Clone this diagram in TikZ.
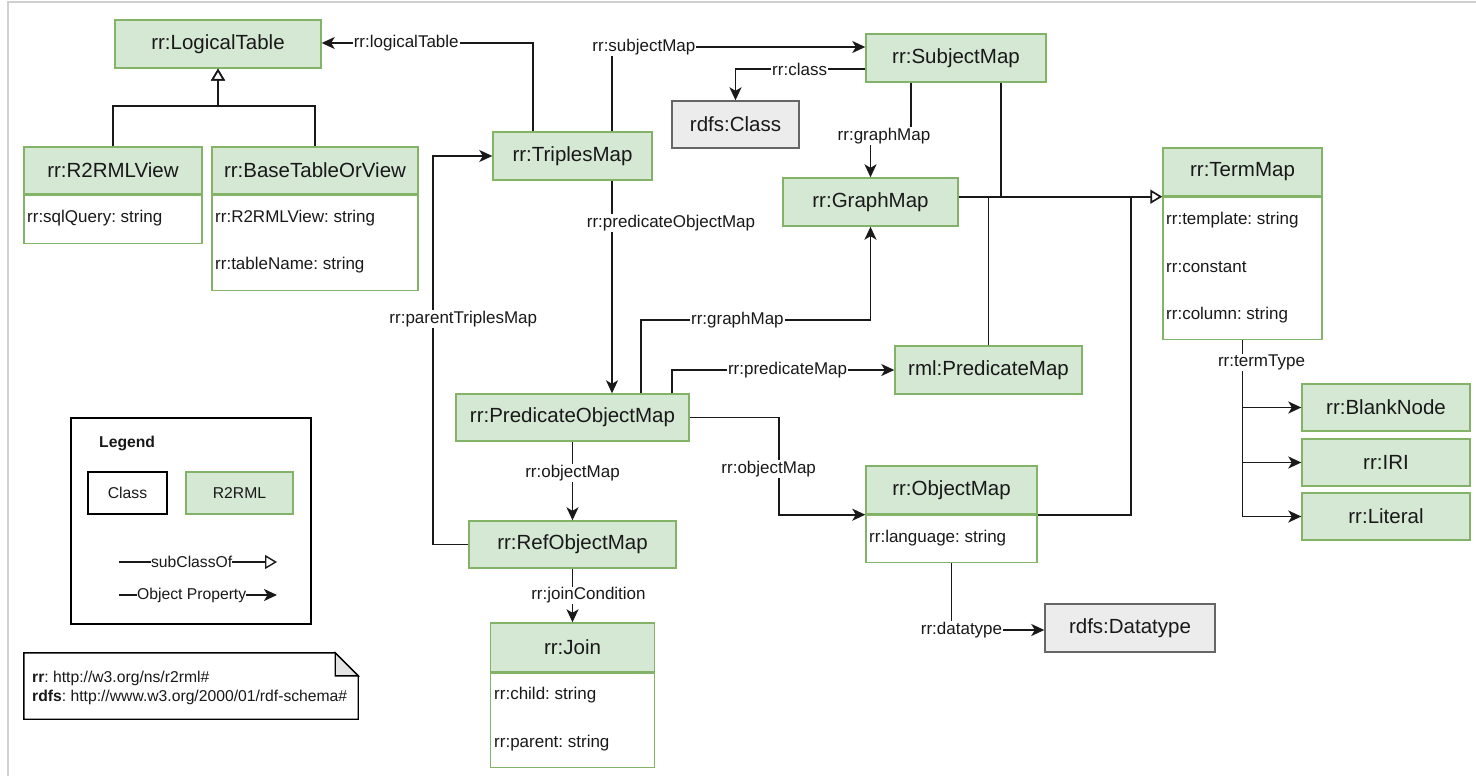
\documentclass[tikz,border=0pt]{standalone}
\usepackage{fontspec}
\setmainfont{Liberation Sans}
\usetikzlibrary{arrows.meta}
\definecolor{gfill}{HTML}{D5E8D4}
\definecolor{gline}{HTML}{82B366}
\definecolor{cfill}{HTML}{ECECEC}
\definecolor{cline}{HTML}{666666}
\definecolor{framegray}{HTML}{D0D0D0}
\definecolor{foldgray}{HTML}{E4E4E4}
\frenchspacing

\begin{document}
\begin{tikzpicture}[x=1pt,y=-1pt,
  hdr/.style={draw=gline, fill=gfill, line width=1.4pt, inner sep=0pt,
    font=\fontsize{20.5}{24}\selectfont, text=black!90},
  bodybox/.style={draw=gline, fill=white, line width=1.4pt, inner sep=0pt},
  extcls/.style={draw=cline, fill=cfill, line width=1.4pt, inner sep=0pt,
    font=\fontsize{20.5}{24}\selectfont, text=black!90},
  attr/.style={anchor=west, inner sep=0pt, font=\fontsize{17}{20}\selectfont, text=black!90},
  lbl/.style={fill=white, inner sep=1pt, font=\fontsize{17}{20}\selectfont, text=black!90},
  small/.style={font=\fontsize{15.7}{19}\selectfont, text=black!90},
  prop/.style={line width=1.7pt, black!90, -{Stealth[length=13pt, width=12pt, inset=3.5pt]}},
  conn/.style={line width=1.7pt, black!90},
  sub/.style={line width=1.7pt, black!90, -{Triangle[length=12pt, width=14pt, fill=white]}},
]
\useasboundingbox (0,0) rectangle (1476,776);

% page frame
\draw[framegray, line width=1.2pt] (8,776) -- (8,2) -- (1476,2);

% ---------- logical tables ----------
\node[hdr, minimum width=206, minimum height=48] (lt) at (218,44) {rr:LogicalTable};
\node[hdr, minimum width=178, minimum height=47] (r2v) at (113,170.5) {rr:R2RMLView};
\node[bodybox, minimum width=178, minimum height=48, anchor=north] (r2vb) at (r2v.south) {};
\node[attr] (r2va) at (27,218) {rr:sqlQuery: string};
\node[hdr, minimum width=206, minimum height=47] (btv) at (315,170.5) {rr:BaseTableOrView};
\node[bodybox, minimum width=206, minimum height=95, anchor=north] (btvb) at (btv.south) {};
\node[attr] (btva) at (215,218) {rr:R2RMLView: string};
\node[attr] (btvc) at (215,265) {rr:tableName: string};

% ---------- maps ----------
\node[hdr, minimum width=159, minimum height=48] (tm) at (572.5,156) {rr:TriplesMap};
\node[hdr, minimum width=180, minimum height=48] (sm) at (956,58) {rr:SubjectMap};
\node[extcls, minimum width=127, minimum height=47] (cls) at (735.5,124.5) {rdfs:Class};
\node[hdr, minimum width=175, minimum height=48] (gm) at (870.5,202) {rr:GraphMap};

\node[hdr, minimum width=159, minimum height=48] (term) at (1242.5,172) {rr:TermMap};
\node[bodybox, minimum width=159, minimum height=142, anchor=north] (termb) at (term.south) {};
\node[attr] (terma) at (1166,220) {rr:template: string};
\node[attr] (termc) at (1166,267) {rr:constant};
\node[attr] (termd) at (1166,315) {rr:column: string};

\node[hdr, minimum width=187, minimum height=48] (pm) at (988.5,370) {rml:PredicateMap};
\node[hdr, minimum width=233, minimum height=47] (pom) at (572.5,417.5) {rr:PredicateObjectMap};
\node[hdr, minimum width=207, minimum height=47] (rom) at (572.5,544.5) {rr:RefObjectMap};

\node[hdr, minimum width=164, minimum height=49] (join) at (572.5,647.5) {rr:Join};
\node[bodybox, minimum width=164, minimum height=94, anchor=north] (joinb) at (join.south) {};
\node[attr] (joina) at (494,695) {rr:child: string};
\node[attr] (joinc) at (494,743) {rr:parent: string};

\node[hdr, minimum width=171, minimum height=48] (om) at (951.5,490) {rr:ObjectMap};
\node[bodybox, minimum width=171, minimum height=47, anchor=north] (omb) at (om.south) {};
\node[attr] (oma) at (869,538) {rr:language: string};
\node[extcls, minimum width=170, minimum height=48] (dt) at (1130,628) {rdfs:Datatype};

\node[hdr, minimum width=168, minimum height=47] (bn) at (1386,407.5) {rr:BlankNode};
\node[hdr, minimum width=168, minimum height=47] (iri) at (1386,462.5) {rr:IRI};
\node[hdr, minimum width=168, minimum height=47] (lit) at (1386,516.5) {rr:Literal};

% ---------- subclass links ----------
\draw[sub] (r2v.north) -- ++(0,-40) -| (lt.south);
\draw[sub] (btv.north) -- ++(0,-40) -| (lt.south);

\coordinate (tj) at ([xshift=-31]term.south west);
\draw[conn] ([xshift=45]sm.south) -- ([xshift=45]sm.south |- term.south west);
\draw[conn] (pm.north) -- (pm.north |- term.south west);
\draw[conn] (om.south east) -| (tj);
\draw[sub] (gm.east |- term.south west) -- (term.south west);

% ---------- object properties ----------
\draw[prop] ([xshift=-39.5]tm.north) |- node[lbl, pos=0.8]{rr:logicalTable} ([yshift=1]lt.east);
\draw[prop] ([xshift=39.5]tm.north) |- node[lbl, pos=0.563]{rr:subjectMap} ([yshift=11]sm.west);
\draw[prop] ([xshift=39.5]tm.south) -- node[lbl, pos=0.2, xshift=59]{rr:predicateObjectMap} ([xshift=39.5]pom.north);
\draw[prop] ([yshift=-11]sm.west) -| node[lbl, pos=0.253]{rr:class} (cls.north);
\draw[prop] ([xshift=-45]sm.south) -- ++(0,53) node[lbl, xshift=-27]{rr:graphMap} -| (gm.north);

\draw[prop] ([xshift=68.5]pom.north) -- ++(0,-73) -| node[lbl, pos=0.21]{rr:graphMap} (gm.south);
\draw[prop] ([xshift=99.5]pom.north) |- node[lbl, pos=0.76]{rr:predicateMap} (pm.west);
\draw[prop] (pom.east) -- ++(89,0) |- node[lbl, pos=0.267, xshift=-10]{rr:objectMap} (om.south west);
\draw[prop] (pom.south) -- node[lbl, pos=0.4]{rr:objectMap} (rom.north);
\draw[prop] (rom.south) -- node[lbl, pos=0.5, xshift=16]{rr:joinCondition} (join.north);
\draw[prop] (rom.west) -- ++(-35,0) |- node[lbl, pos=0.29, xshift=30]{rr:parentTriplesMap} (tm.west);
\draw[prop] (omb.south) |- node[lbl, pos=0.5, xshift=10]{rr:datatype} ([yshift=-2]dt.west);

\draw[prop] (termb.south) |- (lit.west);
\draw[prop] (termb.south) |- (iri.west);
\draw[prop] (termb.south) |- node[lbl, pos=0.165, xshift=19]{rr:termType} (bn.west);

% ---------- legend ----------
\node[draw=black, line width=1.4pt, minimum width=240, minimum height=206, inner sep=0pt] (legend) at (191,521) {};
\node[small, anchor=west, inner sep=0pt, font=\bfseries\fontsize{15.7}{19}\selectfont] (legtitle) at (99,443) {Legend};
\node[small, draw=black, fill=white, line width=1.4pt, minimum width=79, minimum height=42, inner sep=0pt] (legcls) at (127.5,493) {Class};
\node[hdr, small, minimum width=107, minimum height=42] (legr2) at (239.5,493) {R2RML};
\coordinate (ls1) at (119,562);
\coordinate (le1) at (277,562);
\coordinate (ls2) at (119,595);
\coordinate (le2) at (277,595);
\draw[sub, line width=1.4pt] (ls1) -- node[lbl, small, inner sep=0pt, pos=0.46]{subClassOf} (le1);
\draw[prop, line width=1.4pt] (ls2) -- node[lbl, small, inner sep=0pt, pos=0.46]{Object Property} (le2);

% ---------- namespace note ----------
\node[minimum width=334, minimum height=66, inner sep=0pt] (note) at (191,686) {};
\draw[line width=1.4pt, fill=white] (note.south west) -- (note.north west) -- ([xshift=-23]note.north east)
  -- ([yshift=-23]note.north east) -- (note.south east) -- cycle;
\draw[line width=1.4pt, fill=foldgray] ([xshift=-23]note.north east) -- ([xshift=-23,yshift=-23]note.north east)
  -- ([yshift=-23]note.north east) -- cycle;
\node[small, anchor=west, align=left, inner sep=0pt] (ns) at (32,688)
  {\textbf{rr}: http://w3.org/ns/r2rml\#\\\textbf{rdfs}: http://www.w3.org/2000/01/rdf-schema\#};

\end{tikzpicture}
\end{document}
